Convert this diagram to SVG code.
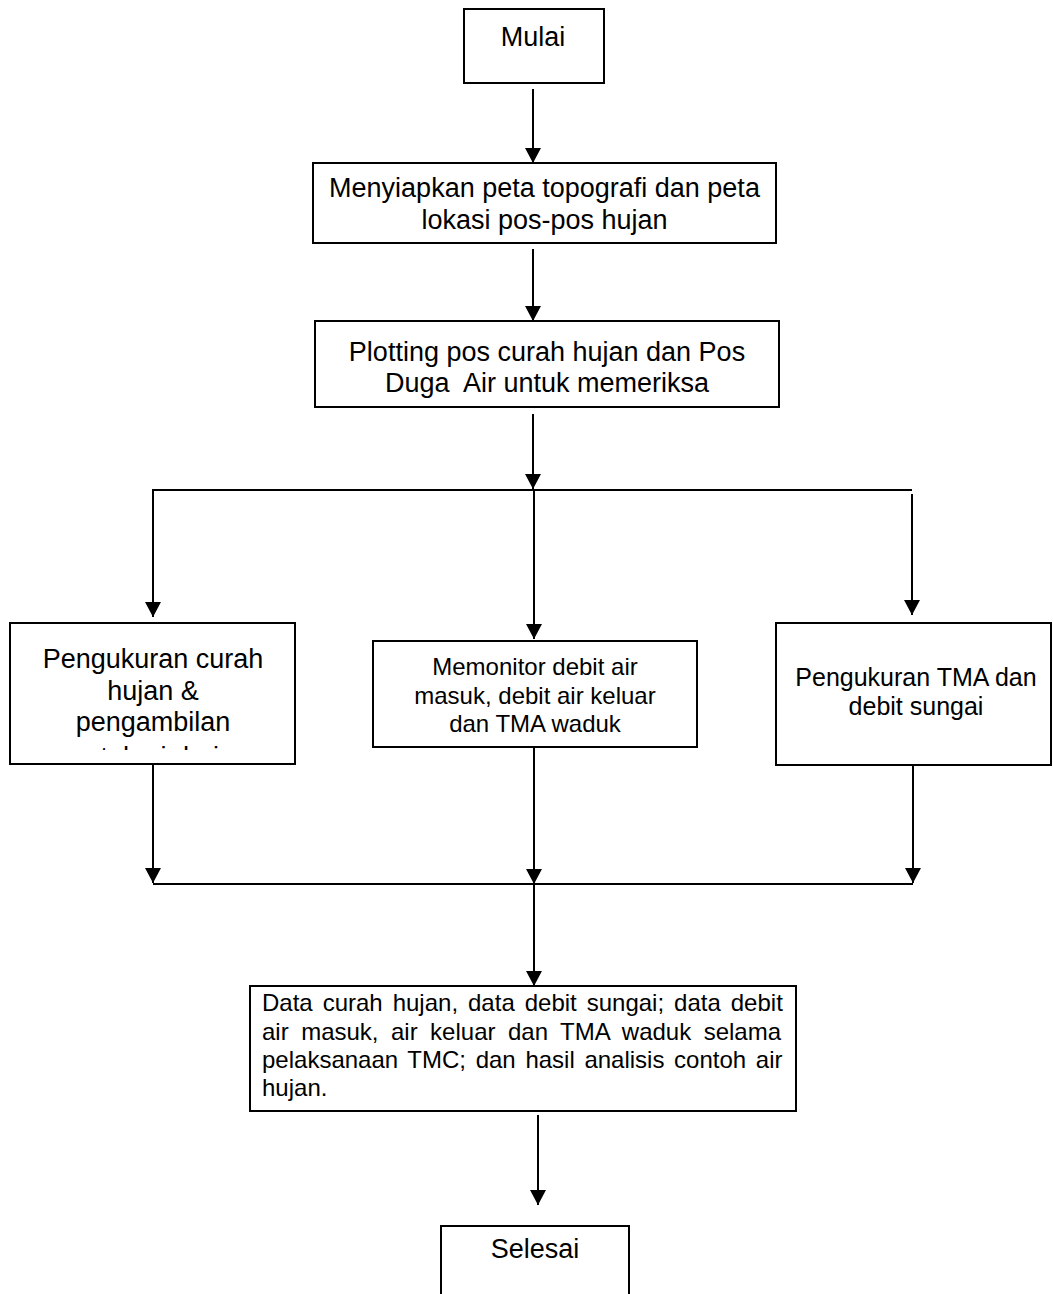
<svg xmlns="http://www.w3.org/2000/svg" width="1053" height="1294" viewBox="0 0 1053 1294">
<defs>
<style>
.box{fill:#fff;stroke:#000;stroke-width:2}
.t{font-family:"Liberation Sans",Arial,sans-serif;fill:#000}
.c{text-anchor:middle}
.f27{font-size:27px}
.f24{font-size:24px}
.f25{font-size:25px}
.ln{stroke:#000;stroke-width:2;fill:none}
</style>
<marker id="ah" markerUnits="userSpaceOnUse" markerWidth="16" markerHeight="16" viewBox="0 0 16 16" refX="15" refY="8" orient="auto">
<path d="M0,0 L15,8 L0,16 z" fill="#000"/>
</marker>
<clipPath id="clipL"><rect x="10" y="623" width="285" height="127"/></clipPath>
</defs>
<rect width="1053" height="1294" fill="#fff"/>

<g id="connectors">
<line class="ln" x1="533" y1="89" x2="533" y2="163" marker-end="url(#ah)"/>
<line class="ln" x1="533" y1="249" x2="533" y2="321" marker-end="url(#ah)"/>
<line class="ln" x1="533" y1="414" x2="533" y2="489" marker-end="url(#ah)"/>
<line class="ln" x1="152" y1="490" x2="912" y2="490"/>
<line class="ln" x1="153" y1="489" x2="153" y2="617" marker-end="url(#ah)"/>
<line class="ln" x1="534" y1="490" x2="534" y2="639" marker-end="url(#ah)"/>
<line class="ln" x1="912" y1="494" x2="912" y2="615" marker-end="url(#ah)"/>
<line class="ln" x1="153" y1="765" x2="153" y2="883" marker-end="url(#ah)"/>
<line class="ln" x1="534" y1="748" x2="534" y2="884" marker-end="url(#ah)"/>
<line class="ln" x1="913" y1="766" x2="913" y2="883" marker-end="url(#ah)"/>
<line class="ln" x1="153" y1="884" x2="913" y2="884"/>
<line class="ln" x1="534" y1="884" x2="534" y2="986" marker-end="url(#ah)"/>
<line class="ln" x1="538" y1="1115" x2="538" y2="1205" marker-end="url(#ah)"/>
</g>

<g id="mulai">
<rect class="box" x="464" y="9" width="140" height="74"/>
<text class="t c f27" x="533" y="46">Mulai</text>
</g>

<g id="menyiapkan">
<rect class="box" x="313" y="163" width="463" height="80"/>
<text class="t c f27" x="544.5" y="197">Menyiapkan peta topografi dan peta</text>
<text class="t c f27" x="544.5" y="229">lokasi pos-pos hujan</text>
</g>

<g id="plotting">
<rect class="box" x="315" y="321" width="464" height="86"/>
<text class="t c f27" x="547" y="361">Plotting pos curah hujan dan Pos</text>
<text class="t c f27" x="547" y="392" style="white-space:pre">Duga  Air untuk memeriksa</text>
</g>

<g id="pengukuran-curah">
<rect class="box" x="10" y="623" width="285" height="141"/>
<text class="t c f27" x="153" y="668">Pengukuran curah</text>
<text class="t c f27" x="153" y="700">hujan &amp;</text>
<text class="t c f27" x="153" y="731">pengambilan</text>
<text class="t c f27" x="153" y="766" clip-path="url(#clipL)">contoh air hujan</text>
</g>

<g id="memonitor">
<rect class="box" x="373" y="641" width="324" height="106"/>
<text class="t c f24" x="535" y="675">Memonitor debit air</text>
<text class="t c f24" x="535" y="704">masuk, debit air keluar</text>
<text class="t c f24" x="535" y="732">dan TMA waduk</text>
</g>

<g id="pengukuran-tma">
<rect class="box" x="776" y="623" width="275" height="142"/>
<text class="t c f25" x="916" y="686">Pengukuran TMA dan</text>
<text class="t c f25" x="916" y="715">debit sungai</text>
</g>

<g id="data">
<rect class="box" x="250" y="986" width="546" height="125"/>
<text class="t f24" x="262" y="1011" word-spacing="3.3">Data curah hujan, data debit sungai; data debit</text>
<text class="t f24" x="262" y="1040" word-spacing="5.8">air masuk, air keluar dan TMA waduk selama</text>
<text class="t f24" x="262" y="1068" word-spacing="3.0">pelaksanaan TMC; dan hasil analisis contoh air</text>
<text class="t f24" x="262" y="1096">hujan.</text>
</g>

<g id="selesai">
<rect class="box" x="441" y="1226" width="188" height="80"/>
<text class="t c f27" x="535" y="1258">Selesai</text>
</g>
</svg>
